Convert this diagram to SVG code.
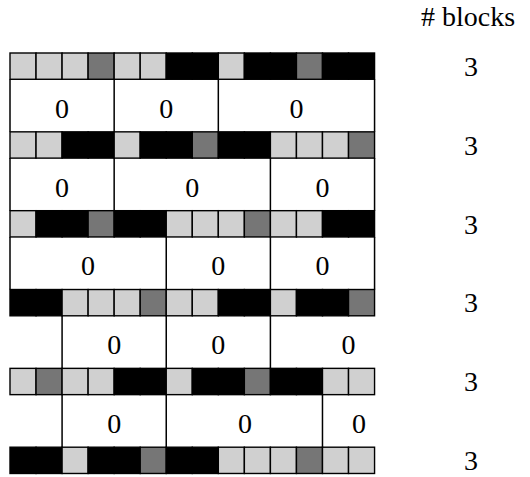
<svg xmlns="http://www.w3.org/2000/svg" width="530" height="477" viewBox="0 0 530 477">
<style>
.L{fill:#d0d0d0;stroke:#000;stroke-width:1.4}
.D{fill:#767676;stroke:#000;stroke-width:1.4}
.B{fill:#000;stroke:#000;stroke-width:1.4}
.div{stroke:#000;stroke-width:1.5;fill:none}
.t{font-family:'Liberation Serif','Times New Roman',serif;font-size:28px;fill:#000;text-anchor:middle}
</style>
<rect width="530" height="477" fill="#fff"/>
<g id="header"><text class="t" x="468" y="26">#  blocks</text></g>

<g id="strip1">
<rect class="L" x="10" y="53" width="26.04" height="26.28"/>
<rect class="L" x="36.04" y="53" width="26.04" height="26.28"/>
<rect class="L" x="62.08" y="53" width="26.04" height="26.28"/>
<rect class="D" x="88.12" y="53" width="26.04" height="26.28"/>
<rect class="L" x="114.16" y="53" width="26.04" height="26.28"/>
<rect class="L" x="140.2" y="53" width="26.04" height="26.28"/>
<rect class="B" x="166.24" y="53" width="26.04" height="26.28"/>
<rect class="B" x="192.28" y="53" width="26.04" height="26.28"/>
<rect class="L" x="218.32" y="53" width="26.04" height="26.28"/>
<rect class="B" x="244.36" y="53" width="26.04" height="26.28"/>
<rect class="B" x="270.4" y="53" width="26.04" height="26.28"/>
<rect class="D" x="296.44" y="53" width="26.04" height="26.28"/>
<rect class="B" x="322.48" y="53" width="26.04" height="26.28"/>
<rect class="B" x="348.52" y="53" width="26.04" height="26.28"/>
<text class="t" x="471" y="75.5">3</text>
</g>

<g id="strip2">
<rect class="L" x="10" y="131.84" width="26.04" height="26.28"/>
<rect class="L" x="36.04" y="131.84" width="26.04" height="26.28"/>
<rect class="B" x="62.08" y="131.84" width="26.04" height="26.28"/>
<rect class="B" x="88.12" y="131.84" width="26.04" height="26.28"/>
<rect class="L" x="114.16" y="131.84" width="26.04" height="26.28"/>
<rect class="B" x="140.2" y="131.84" width="26.04" height="26.28"/>
<rect class="B" x="166.24" y="131.84" width="26.04" height="26.28"/>
<rect class="D" x="192.28" y="131.84" width="26.04" height="26.28"/>
<rect class="B" x="218.32" y="131.84" width="26.04" height="26.28"/>
<rect class="B" x="244.36" y="131.84" width="26.04" height="26.28"/>
<rect class="L" x="270.4" y="131.84" width="26.04" height="26.28"/>
<rect class="L" x="296.44" y="131.84" width="26.04" height="26.28"/>
<rect class="L" x="322.48" y="131.84" width="26.04" height="26.28"/>
<rect class="D" x="348.52" y="131.84" width="26.04" height="26.28"/>
<text class="t" x="471" y="154.5">3</text>
</g>

<g id="strip3">
<rect class="L" x="10" y="210.68" width="26.04" height="26.28"/>
<rect class="B" x="36.04" y="210.68" width="26.04" height="26.28"/>
<rect class="B" x="62.08" y="210.68" width="26.04" height="26.28"/>
<rect class="D" x="88.12" y="210.68" width="26.04" height="26.28"/>
<rect class="B" x="114.16" y="210.68" width="26.04" height="26.28"/>
<rect class="B" x="140.2" y="210.68" width="26.04" height="26.28"/>
<rect class="L" x="166.24" y="210.68" width="26.04" height="26.28"/>
<rect class="L" x="192.28" y="210.68" width="26.04" height="26.28"/>
<rect class="L" x="218.32" y="210.68" width="26.04" height="26.28"/>
<rect class="D" x="244.36" y="210.68" width="26.04" height="26.28"/>
<rect class="L" x="270.4" y="210.68" width="26.04" height="26.28"/>
<rect class="L" x="296.44" y="210.68" width="26.04" height="26.28"/>
<rect class="B" x="322.48" y="210.68" width="26.04" height="26.28"/>
<rect class="B" x="348.52" y="210.68" width="26.04" height="26.28"/>
<text class="t" x="471" y="233.5">3</text>
</g>

<g id="strip4">
<rect class="B" x="10" y="289.52" width="26.04" height="26.28"/>
<rect class="B" x="36.04" y="289.52" width="26.04" height="26.28"/>
<rect class="L" x="62.08" y="289.52" width="26.04" height="26.28"/>
<rect class="L" x="88.12" y="289.52" width="26.04" height="26.28"/>
<rect class="L" x="114.16" y="289.52" width="26.04" height="26.28"/>
<rect class="D" x="140.2" y="289.52" width="26.04" height="26.28"/>
<rect class="L" x="166.24" y="289.52" width="26.04" height="26.28"/>
<rect class="L" x="192.28" y="289.52" width="26.04" height="26.28"/>
<rect class="B" x="218.32" y="289.52" width="26.04" height="26.28"/>
<rect class="B" x="244.36" y="289.52" width="26.04" height="26.28"/>
<rect class="L" x="270.4" y="289.52" width="26.04" height="26.28"/>
<rect class="B" x="296.44" y="289.52" width="26.04" height="26.28"/>
<rect class="B" x="322.48" y="289.52" width="26.04" height="26.28"/>
<rect class="D" x="348.52" y="289.52" width="26.04" height="26.28"/>
<text class="t" x="471" y="312">3</text>
</g>

<g id="strip5">
<rect class="L" x="10" y="368.36" width="26.04" height="26.28"/>
<rect class="D" x="36.04" y="368.36" width="26.04" height="26.28"/>
<rect class="L" x="62.08" y="368.36" width="26.04" height="26.28"/>
<rect class="L" x="88.12" y="368.36" width="26.04" height="26.28"/>
<rect class="B" x="114.16" y="368.36" width="26.04" height="26.28"/>
<rect class="B" x="140.2" y="368.36" width="26.04" height="26.28"/>
<rect class="L" x="166.24" y="368.36" width="26.04" height="26.28"/>
<rect class="B" x="192.28" y="368.36" width="26.04" height="26.28"/>
<rect class="B" x="218.32" y="368.36" width="26.04" height="26.28"/>
<rect class="D" x="244.36" y="368.36" width="26.04" height="26.28"/>
<rect class="B" x="270.4" y="368.36" width="26.04" height="26.28"/>
<rect class="B" x="296.44" y="368.36" width="26.04" height="26.28"/>
<rect class="L" x="322.48" y="368.36" width="26.04" height="26.28"/>
<rect class="L" x="348.52" y="368.36" width="26.04" height="26.28"/>
<text class="t" x="471" y="391">3</text>
</g>

<g id="strip6">
<rect class="B" x="10" y="447.2" width="26.04" height="26.28"/>
<rect class="B" x="36.04" y="447.2" width="26.04" height="26.28"/>
<rect class="L" x="62.08" y="447.2" width="26.04" height="26.28"/>
<rect class="B" x="88.12" y="447.2" width="26.04" height="26.28"/>
<rect class="B" x="114.16" y="447.2" width="26.04" height="26.28"/>
<rect class="D" x="140.2" y="447.2" width="26.04" height="26.28"/>
<rect class="B" x="166.24" y="447.2" width="26.04" height="26.28"/>
<rect class="B" x="192.28" y="447.2" width="26.04" height="26.28"/>
<rect class="L" x="218.32" y="447.2" width="26.04" height="26.28"/>
<rect class="L" x="244.36" y="447.2" width="26.04" height="26.28"/>
<rect class="L" x="270.4" y="447.2" width="26.04" height="26.28"/>
<rect class="D" x="296.44" y="447.2" width="26.04" height="26.28"/>
<rect class="L" x="322.48" y="447.2" width="26.04" height="26.28"/>
<rect class="L" x="348.52" y="447.2" width="26.04" height="26.28"/>
<text class="t" x="471" y="470">3</text>
</g>

<g id="gap1">
<path class="div" d="M10 79.28V131.84M114.16 79.28V131.84M218.32 79.28V131.84M374.56 79.28V131.84"/>
<text class="t" x="62" y="117.5">0</text>
<text class="t" x="166.2" y="117.5">0</text>
<text class="t" x="296.4" y="117.5">0</text>
</g>
<g id="gap2">
<path class="div" d="M10 158.12V210.68M114.16 158.12V210.68M270.4 158.12V210.68M374.56 158.12V210.68"/>
<text class="t" x="62" y="196.5">0</text>
<text class="t" x="192.3" y="196.5">0</text>
<text class="t" x="322.5" y="196.5">0</text>
</g>
<g id="gap3">
<path class="div" d="M10 236.96V289.52M166.24 236.96V289.52M270.4 236.96V289.52M374.56 236.96V289.52"/>
<text class="t" x="88.1" y="275">0</text>
<text class="t" x="218.3" y="275">0</text>
<text class="t" x="322.5" y="275">0</text>
</g>
<g id="gap4">
<path class="div" d="M62.08 315.8V368.36M166.24 315.8V368.36M270.4 315.8V368.36"/>
<text class="t" x="114.2" y="353.5">0</text>
<text class="t" x="218.3" y="353.5">0</text>
<text class="t" x="348.5" y="353.5">0</text>
</g>
<g id="gap5">
<path class="div" d="M62.08 394.64V447.2M166.24 394.64V447.2M322.48 394.64V447.2"/>
<text class="t" x="114.2" y="432.5">0</text>
<text class="t" x="245" y="432.5">0</text>
<text class="t" x="359" y="432.5">0</text>
</g>
</svg>
